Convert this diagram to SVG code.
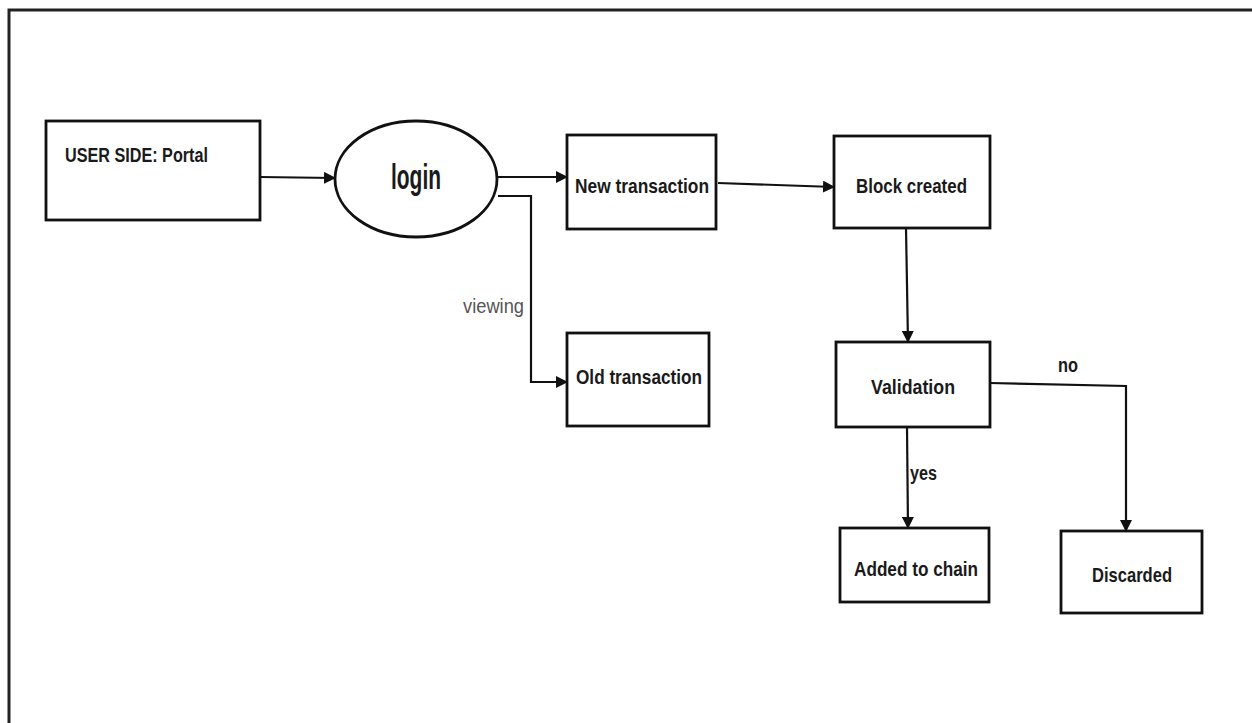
<svg xmlns="http://www.w3.org/2000/svg" width="1252" height="723" viewBox="0 0 1252 723">
<style>
.box{fill:#fff;stroke:#111;stroke-width:2.8}
.t{font-family:"Liberation Sans",Arial,sans-serif;font-weight:bold;font-size:21px;fill:#1a1a1a}
.c{fill:none;stroke:#111;stroke-width:2.2}
.lbl{font-family:"Liberation Sans",Arial,sans-serif;font-size:20px;fill:#1a1a1a;font-weight:bold}
</style>
<defs>
<marker id="ah" markerWidth="12" markerHeight="12" refX="11" refY="6" orient="auto" markerUnits="userSpaceOnUse">
<path d="M0,0 L12,6 L0,12 Z" fill="#111"/>
</marker>
</defs>
<rect width="1252" height="723" fill="#fff"/>
<g id="frame">
<path d="M9,723 L9,10 L1252,10" fill="none" stroke="#222" stroke-width="3"/>
</g>
<g id="user-side">
<rect class="box" x="46" y="121" width="214" height="99"/>
<text class="t" x="65" y="162" textLength="143" lengthAdjust="spacingAndGlyphs">USER SIDE: Portal</text>
</g>
<g id="login">
<ellipse class="box" cx="416" cy="179" rx="81" ry="58"/>
<text x="391" y="189" font-family="Liberation Sans,Arial,sans-serif" font-size="35" font-weight="bold" fill="#1a1a1a" textLength="50" lengthAdjust="spacingAndGlyphs">login</text>
</g>
<g id="new-transaction">
<rect class="box" x="567" y="135" width="149" height="94"/>
<text class="t" x="575" y="193" textLength="134" lengthAdjust="spacingAndGlyphs">New transaction</text>
</g>
<g id="old-transaction">
<rect class="box" x="567" y="333" width="142" height="93"/>
<text class="t" x="576" y="384" textLength="126" lengthAdjust="spacingAndGlyphs">Old transaction</text>
</g>
<g id="block-created">
<rect class="box" x="834" y="136" width="156" height="92"/>
<text class="t" x="856" y="193" textLength="111" lengthAdjust="spacingAndGlyphs">Block created</text>
</g>
<g id="validation">
<rect class="box" x="836" y="342" width="154" height="85"/>
<text class="t" x="871" y="394" textLength="84" lengthAdjust="spacingAndGlyphs">Validation</text>
</g>
<g id="added-to-chain">
<rect class="box" x="840" y="528" width="149" height="74"/>
<text class="t" x="854" y="576" textLength="124" lengthAdjust="spacingAndGlyphs">Added to chain</text>
</g>
<g id="discarded">
<rect class="box" x="1061" y="531" width="141" height="82"/>
<text class="t" x="1092" y="582" textLength="80" lengthAdjust="spacingAndGlyphs">Discarded</text>
</g>
<g id="connectors">
<path class="c" d="M260,177 L335,178" marker-end="url(#ah)"/>
<path class="c" d="M498,177 L567,177" marker-end="url(#ah)"/>
<path class="c" d="M498,196 L531,196 L531,382 L567,382" marker-end="url(#ah)"/>
<path class="c" d="M718,183 L834,187" marker-end="url(#ah)"/>
<path class="c" d="M906,228 L908,342" marker-end="url(#ah)" stroke-width="1.8"/>
<path class="c" d="M907,427 L908,528" marker-end="url(#ah)" stroke-width="1.8"/>
<path class="c" d="M990,383 L1126,386 L1126,531" marker-end="url(#ah)"/>
<text x="463" y="313" font-family="Liberation Sans,Arial,sans-serif" font-size="20" fill="#555" textLength="61" lengthAdjust="spacingAndGlyphs">viewing</text>
<text class="lbl" x="910" y="480" textLength="27" lengthAdjust="spacingAndGlyphs">yes</text>
<text class="lbl" x="1058" y="372" textLength="20" lengthAdjust="spacingAndGlyphs">no</text>
</g>
</svg>
